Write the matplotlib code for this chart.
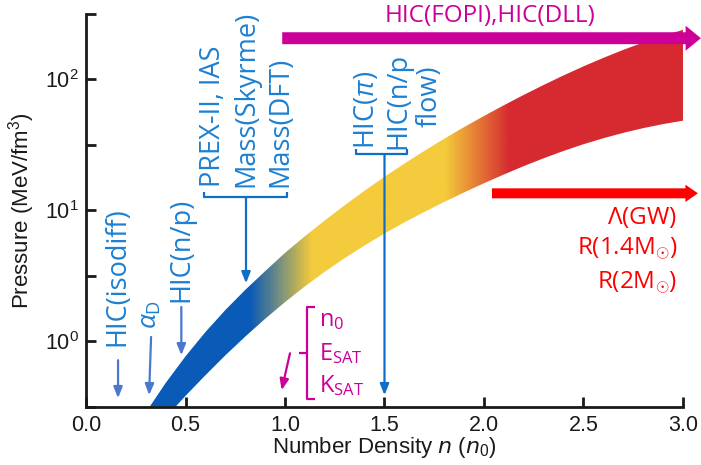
import numpy as np
import matplotlib
matplotlib.use("Agg")
import matplotlib.pyplot as plt
from matplotlib.colors import LinearSegmentedColormap, Normalize

# ---------------- data ----------------
n_upper = [0.32, 0.4, 0.5, 0.6, 0.7, 0.8, 0.9, 1.0, 1.1, 1.2, 1.3, 1.4, 1.5, 1.6,
           1.7, 1.8, 1.9, 2.0, 2.1, 2.2, 2.3, 2.4, 2.5, 2.6, 2.7, 2.8, 2.9, 3.0]
p_upper = [0.316, 0.479, 0.767, 1.175, 1.730, 2.466, 3.428, 4.732, 6.339, 8.375, 10.94,
           14.13, 18.03, 22.75, 28.44, 35.24, 43.25, 52.60, 63.53, 76.21, 90.78, 107.4,
           125.9, 146.2, 168.3, 191.4, 215.3, 239.3]
n_lower = [0.45, 0.5, 0.6, 0.7, 0.8, 0.9, 1.0, 1.1, 1.2, 1.3, 1.4, 1.5, 1.6, 1.7,
           1.8, 1.9, 2.0, 2.1, 2.2, 2.3, 2.4, 2.5, 2.6, 2.7, 2.8, 2.9, 3.0]
p_lower = [0.316, 0.3825, 0.5495, 0.7798, 1.084, 1.483, 1.991, 2.624, 3.396, 4.315,
           5.395, 6.653, 8.091, 9.727, 11.59, 13.71, 16.11, 18.79, 21.78, 25.00, 28.44,
           31.99, 35.56, 39.08, 42.46, 45.60, 48.42]

gradient_n = [0.30, 0.82, 1.13, 1.80, 2.13, 3.00]
gradient_colors = ['#0a5bb8', '#0a5bb8', '#f4cb3c', '#f4cb3c', '#d62a30', '#d62a30']

x_ticks = [0.0, 0.5, 1.0, 1.5, 2.0, 2.5, 3.0]
x_ticklabels = ['0.0', '0.5', '1.0', '1.5', '2.0', '2.5', '3.0']
y_major = [1, 10, 100]
y_minor = [10 ** -0.5, 10 ** 0.5, 10 ** 1.5, 10 ** 2.5]

# ---------------- style ----------------
plt.rcParams['font.family'] = ['Liberation Sans', 'DejaVu Sans']
plt.rcParams['mathtext.fontset'] = 'custom'
plt.rcParams['mathtext.rm'] = 'Open Sans'
plt.rcParams['mathtext.it'] = 'Open Sans:italic'
plt.rcParams['mathtext.bf'] = 'Open Sans:bold'
ANN = ['Open Sans', 'DejaVu Sans']
AXF = ['Liberation Sans', 'DejaVu Sans']

BLUE_TXT = '#1c80d2'
BLUE_ARW = '#4a78cc'
BLUE_LN = '#0f6fc6'
MAGENTA = '#cc0099'
RED = '#ff0000'
AXC = '#1a1a1a'
FS = 19.5

fig = plt.figure(figsize=(7.01, 4.65), dpi=100)
ax = fig.add_axes([0.1227, 0.1254, 0.8516, 0.8445])
ax.set_yscale('log')
ax.set_xlim(0, 3.0)
ax.set_ylim(10 ** -0.5, 10 ** 2.5)

# ---------------- gradient band ----------------
poly_x = list(n_upper) + list(n_lower[::-1])
poly_y = list(p_upper) + list(p_lower[::-1])
band = ax.fill(poly_x, poly_y, facecolor='none', edgecolor='none')[0]

span = gradient_n[-1] - gradient_n[0]
stops = [((g - gradient_n[0]) / span, c) for g, c in zip(gradient_n, gradient_colors)]
cmap = LinearSegmentedColormap.from_list('band', stops)
xs = np.linspace(gradient_n[0], gradient_n[-1], 800)
img = ax.imshow(xs[np.newaxis, :], cmap=cmap, norm=Normalize(gradient_n[0], gradient_n[-1]),
                extent=[gradient_n[0], gradient_n[-1], 10 ** -0.5, 10 ** 2.5],
                aspect='auto', origin='lower', interpolation='bilinear', zorder=2)
img.set_clip_path(band)

# ---------------- axes styling ----------------
for s in ['top', 'right']:
    ax.spines[s].set_visible(False)
for s in ['left', 'bottom']:
    ax.spines[s].set_linewidth(2.0)
    ax.spines[s].set_color(AXC)
ax.set_xticks(x_ticks)
ax.set_xticklabels(x_ticklabels)
ax.set_yticks(y_major)
ax.set_yticks(y_minor, minor=True)
ax.yaxis.set_minor_formatter(matplotlib.ticker.NullFormatter())
ax.tick_params(axis='both', which='both', direction='in', length=7, width=2,
               color=AXC, labelsize=15.5, labelcolor=AXC)
ax.tick_params(axis='x', pad=6)
ax.tick_params(axis='y', pad=5)
ax.set_xlabel(r'Number Density $n$ ($n_\mathregular{0}$)', fontsize=16,
              family=AXF, color=AXC, labelpad=-1)
ax.set_ylabel(r'Pressure (MeV/fm$^\mathregular{3}$)', fontsize=16, family=AXF,
              color=AXC, labelpad=6)
ax.xaxis.label.set_math_fontfamily('dejavusans')


def P(lg):
    return 10 ** lg


def arrow(x0, y0, x1, y1, color, lw=1.6, hl=0.55, hw=0.22, ms=12):
    a = ax.annotate('', xy=(x1, P(y1)), xytext=(x0, P(y0)), annotation_clip=False,
                    arrowprops=dict(arrowstyle=f'-|>,head_length={hl},head_width={hw}',
                                    color=color, lw=lw, shrinkA=0, shrinkB=0,
                                    mutation_scale=ms))
    a.arrow_patch.set_clip_on(False)
    a.arrow_patch.set_zorder(5)


def line(xs_, ys_, color, lw=1.6):
    ax.plot(xs_, [P(v) for v in ys_], color=color, lw=lw, clip_on=False, zorder=5,
            solid_capstyle='butt', solid_joinstyle='round')


def vtext(x, lg, s, va='bottom', fs=FS):
    ax.text(x, P(lg), s, rotation=90, ha='center', va=va, color=BLUE_TXT,
            fontsize=fs, family=ANN)


# left single labels
vtext(0.158, -0.04, 'HIC(isodiff)')
arrow(0.161, -0.145, 0.161, -0.435, BLUE_ARW)
vtext(0.322, 0.09, r'$\alpha_\mathregular{D}$', fs=19)
arrow(0.327, 0.033, 0.317, -0.412, BLUE_ARW)
vtext(0.477, 0.30, 'HIC(n/p)')
arrow(0.479, 0.262, 0.479, -0.107, BLUE_ARW)

# PREX group
for xx, t in zip([0.638, 0.804, 0.975], ['PREX-II, IAS', 'Mass(Skyrme)', 'Mass(DFT)']):
    vtext(xx, 1.18, t)
line([0.593, 0.593, 1.010, 1.010], [1.137, 1.099, 1.099, 1.137], BLUE_LN)
arrow(0.804, 1.099, 0.804, 0.443, BLUE_LN)

# HIC(pi) group
vtext(1.412, 1.47, r'HIC($\pi$)')
vtext(1.568, 1.47, 'HIC(n/p')
vtext(1.729, 2.11, 'flow)', va='top')
line([1.357, 1.357, 1.613, 1.613], [1.466, 1.427, 1.427, 1.466], BLUE_LN)
arrow(1.5, 1.427, 1.5, -0.412, BLUE_LN)

# magenta saturation group
line([1.151, 1.112, 1.112, 1.151], [0.262, 0.262, -0.445, -0.445], MAGENTA)
line([1.070, 1.112], [-0.089, -0.089], MAGENTA)
arrow(1.025, -0.092, 0.983, -0.374, MAGENTA)
for lg, s in zip([0.160, -0.092, -0.336],
                 [r'n$_\mathregular{0}$', r'E$_\mathregular{SAT}$', r'K$_\mathregular{SAT}$']):
    ax.text(1.170, P(lg), s, ha='left', va='center', color=MAGENTA, fontsize=17, family=ANN)

# big arrows
big = ax.annotate('', xy=(3.09, P(2.315)), xytext=(0.986, P(2.315)), annotation_clip=False,
                  arrowprops=dict(arrowstyle='simple,head_length=11,head_width=18,tail_width=8.6',
                                  color=MAGENTA, shrinkA=0, shrinkB=0, mutation_scale=1, lw=0))
big.arrow_patch.set_clip_on(False)
big.arrow_patch.set_zorder(6)
ax.text(2.03, P(2.485), 'HIC(FOPI),HIC(DLL)', ha='center', va='center', color=MAGENTA,
        fontsize=17.5, family=ANN, clip_on=False)

red = ax.annotate('', xy=(3.075, P(1.13)), xytext=(2.04, P(1.13)), annotation_clip=False,
                  arrowprops=dict(arrowstyle='simple,head_length=9,head_width=12.5,tail_width=7.2',
                                  color=RED, shrinkA=0, shrinkB=0, mutation_scale=1, lw=0))
red.arrow_patch.set_clip_on(False)
red.arrow_patch.set_zorder(6)
for lg, s in zip([0.947, 0.71, 0.45],
                 [r'$\Lambda$(GW)', r'R(1.4M$_{\odot}$)', r'R(2M$_{\odot}$)']):
    ax.text(2.97, P(lg), s, ha='right', va='center', color=RED, fontsize=17.5, family=ANN)

fig.savefig('out.png', dpi=100)
